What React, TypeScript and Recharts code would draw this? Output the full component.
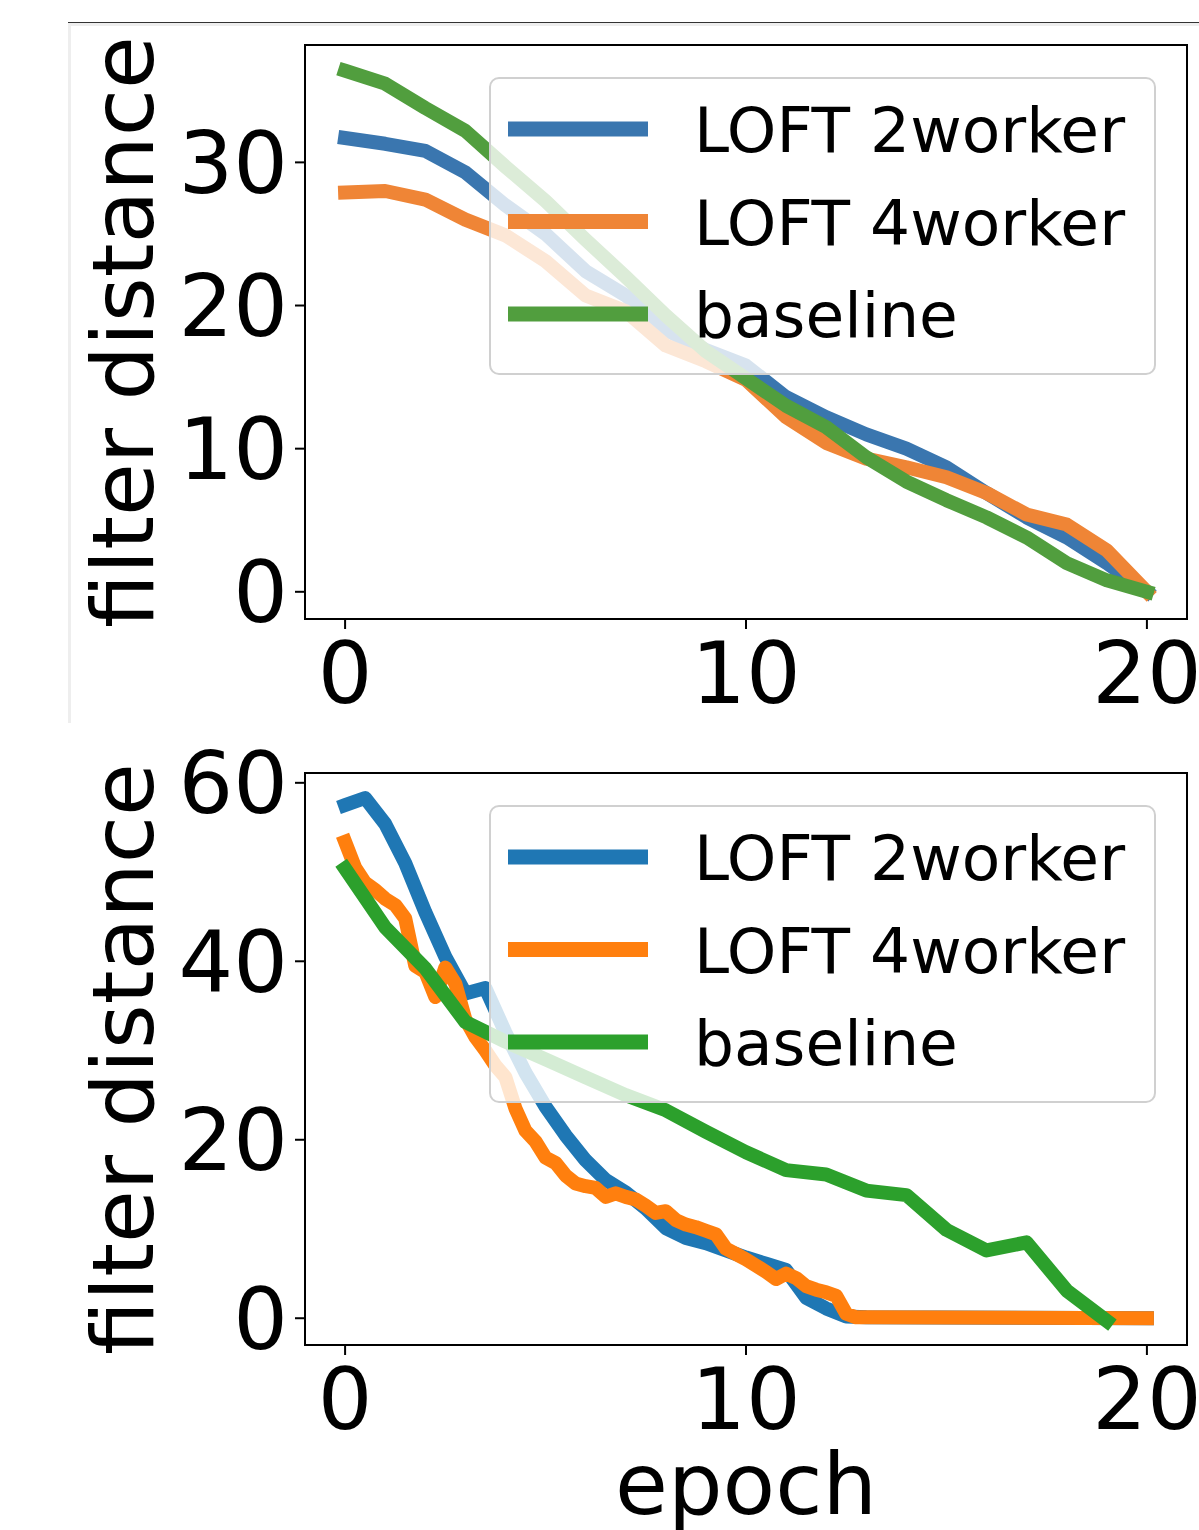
import { LineChart, Line, XAxis, YAxis, Legend, ReferenceArea } from "recharts";

const FONT = "DejaVu Sans, sans-serif";

// series names and tick labels
const seriesNames = ["LOFT 2worker", "LOFT 4worker", "baseline"];
const xTicks = [0, 10, 20];
const topYTicks = [0, 10, 20, 30];
const bottomYTicks = [0, 20, 40, 60];

// top panel, one point per epoch
const topEpochs = [0, 1, 2, 3, 4, 5, 6, 7, 8, 9, 10, 11, 12, 13, 14, 15, 16, 17, 18, 19, 20];
const topLoft2 = [31.7, 31.3, 30.8, 29.3, 27.0, 25.0, 22.4, 20.7, 18.3, 16.9, 15.8, 13.6, 12.2, 11.0, 10.0, 8.7, 6.9, 5.2, 3.8, 2.0, 0.0];
const topLoft4 = [27.9, 28.0, 27.4, 26.0, 24.9, 23.1, 20.7, 19.6, 17.2, 16.1, 14.8, 12.2, 10.4, 9.3, 8.7, 8.0, 6.9, 5.4, 4.7, 2.9, 0.0];
const topBaseline = [36.4, 35.5, 33.8, 32.2, 29.7, 27.3, 24.6, 22.0, 19.3, 16.8, 14.9, 13.0, 11.5, 9.4, 7.7, 6.4, 5.2, 3.8, 2.0, 0.8, 0.0];

// bottom panel
const bottomLoft2Epochs = [0, 0.5, 1, 1.5, 2, 2.5, 3, 3.5, 4, 4.5, 5, 5.5, 6, 6.5, 7, 7.5, 8, 8.5, 9, 9.5, 10, 10.5, 11, 11.5, 12, 12.5, 13, 20];
const bottomLoft2 = [57.5, 58.3, 55.4, 51.0, 45.5, 40.5, 36.4, 37.0, 32.0, 27.5, 23.7, 20.5, 17.7, 15.5, 14.1, 12.3, 10.1, 9.0, 8.4, 7.6, 6.8, 6.1, 5.4, 2.3, 1.1, 0.2, 0.1, 0.0];
const bottomLoft4Epochs = [
  0, 0.25, 0.5, 0.75, 1, 1.25, 1.5, 1.75, 2, 2.25, 2.5, 2.75, 3, 3.25, 3.5, 3.75, 4, 4.25, 4.5, 4.75,
  5, 5.25, 5.5, 5.75, 6, 6.25, 6.5, 6.75, 7, 7.25, 7.5, 7.75, 8, 8.25, 8.5, 8.75, 9, 9.25, 9.5, 9.75,
  10, 10.25, 10.5, 10.75, 11, 11.25, 11.5, 11.75, 12, 12.25, 12.5, 12.75, 13, 20,
];
const bottomLoft4 = [
  53.4, 50.5, 48.8, 48.0, 47.0, 46.3, 44.8, 39.5, 38.8, 36.0, 39.3, 37.5, 33.5, 31.5, 30.0, 28.3, 27.0, 23.5, 21.0, 19.8,
  18.0, 17.4, 16.0, 15.1, 14.8, 14.6, 13.6, 14.0, 13.6, 13.3, 12.6, 11.8, 12.0, 11.0, 10.5, 10.2, 9.8, 9.4, 7.8, 7.2,
  6.6, 5.9, 5.2, 4.4, 5.0, 4.5, 3.6, 3.2, 2.9, 2.5, 0.5, 0.1, 0.1, 0.0,
];
const bottomBaselineEpochs = [0, 1, 2, 3, 4, 5, 6, 7, 8, 9, 10, 11, 12, 13, 14, 15, 16, 17, 18, 19];
const bottomBaseline = [50.4, 43.8, 39.2, 33.2, 31.0, 29.0, 27.0, 25.0, 23.3, 20.9, 18.6, 16.6, 16.1, 14.3, 13.8, 9.9, 7.6, 8.5, 3.1, -0.3];

const topColors = ["#3a76af", "#ef8536", "#519e3e"];
const bottomColors = ["#1f77b4", "#ff7f0e", "#2ca02c"];

const X_DOMAIN: [number, number] = [-1, 21];

const pairs = (xs: number[], ys: number[]) => xs.map((epoch, i) => ({ epoch, value: ys[i] }));

function renderLegend(props: any) {
  const payload = props.payload || [];
  return (
    <div
      style={{
        width: 667,
        height: 298,
        boxSizing: "border-box",
        border: "2px solid #d0d0d0",
        borderRadius: 10,
        background: "rgba(255,255,255,0.8)",
      }}
    >
      <svg width={663} height={294} style={{ display: "block" }}>
        {payload.map((entry: any, i: number) => {
          const rowY = 50 + i * 92.5;
          return (
            <g key={i}>
              <line x1={17} x2={157} y1={rowY} y2={rowY} stroke={entry.color} strokeWidth={15} />
              <text x={203} y={rowY + 23} fontSize={63} fontFamily={FONT} fill="#000">
                {entry.value}
              </text>
            </g>
          );
        })}
      </svg>
    </div>
  );
}

function yLabel(props: any) {
  const { x, y, height } = props.viewBox;
  const cx = x + 93;
  const cy = y + height / 2;
  return (
    <text x={cx} y={cy} transform={`rotate(-90 ${cx} ${cy})`} textAnchor="middle" fontSize={86} fontFamily={FONT} fill="#000">
      filter distance
    </text>
  );
}

function xLabel(props: any) {
  const { x, y, width } = props.viewBox;
  return (
    <text x={x + width / 2} y={y + 169} textAnchor="middle" fontSize={86} fontFamily={FONT} fill="#000">
      epoch
    </text>
  );
}

interface PanelProps {
  height: number;
  marginTop: number;
  marginBottom: number;
  xAxisHeight: number;
  yDomain: [number, number];
  yTicks: number[];
  colors: string[];
  series: { x: number[]; y: number[] }[];
  showXLabel: boolean;
}

function Panel({ height, marginTop, marginBottom, xAxisHeight, yDomain, yTicks, colors, series, showXLabel }: PanelProps) {
  const tickStyle = { fontSize: 86, fill: "#000", fontFamily: FONT };
  const axisStyle = { stroke: "#000", strokeWidth: 2 };
  return (
    <LineChart width={1199} height={height} margin={{ top: marginTop, right: 12, bottom: marginBottom, left: 60 }}>
      <XAxis
        dataKey="epoch"
        type="number"
        domain={X_DOMAIN}
        ticks={xTicks}
        allowDataOverflow
        height={xAxisHeight}
        tick={tickStyle}
        tickSize={10}
        tickMargin={13}
        axisLine={axisStyle}
        tickLine={axisStyle}
        label={showXLabel ? xLabel : undefined}
      />
      <YAxis
        type="number"
        domain={yDomain}
        ticks={yTicks}
        allowDataOverflow
        width={245}
        tick={tickStyle}
        tickSize={10}
        tickMargin={7}
        axisLine={axisStyle}
        tickLine={axisStyle}
        label={yLabel}
      />
      {/* frame of the axes */}
      <ReferenceArea
        x1={X_DOMAIN[0]}
        x2={X_DOMAIN[1]}
        y1={yDomain[0]}
        y2={yDomain[1]}
        fill="none"
        fillOpacity={0}
        stroke="#000"
        strokeWidth={2}
        ifOverflow="visible"
      />
      {series.map((s, i) => (
        <Line
          key={seriesNames[i]}
          data={pairs(s.x, s.y)}
          dataKey="value"
          name={seriesNames[i]}
          type="linear"
          stroke={colors[i]}
          strokeWidth={14}
          strokeLinecap="square"
          strokeLinejoin="round"
          dot={false}
          activeDot={false}
          isAnimationActive={false}
        />
      ))}
      <Legend
        layout="vertical"
        align="center"
        verticalAlign="middle"
        content={renderLegend}
        wrapperStyle={{ left: 489, top: 77 + (marginTop - 45), width: 667, height: 298 }}
      />
    </LineChart>
  );
}

export default function App() {
  return (
    <div style={{ position: "absolute", left: 0, top: 0, width: 1199, height: 1530, background: "#fff", overflow: "hidden", fontFamily: FONT }}>
      <div
        style={{
          position: "absolute",
          left: 68,
          top: 22,
          width: 1131,
          height: 701,
          borderTop: "1px solid #333",
          boxSizing: "border-box",
        }}
      >
        <div style={{ width: "100%", height: "100%", borderTop: "3px solid #eeeeee", borderLeft: "3px solid #eeeeee", boxSizing: "border-box" }} />
      </div>
      <div style={{ position: "absolute", left: 0, top: 0 }}>
        <Panel
          height={725}
          marginTop={45}
          marginBottom={6}
          xAxisHeight={100}
          yDomain={[-1.9, 38.2]}
          yTicks={topYTicks}
          colors={topColors}
          series={[
            { x: topEpochs, y: topLoft2 },
            { x: topEpochs, y: topLoft4 },
            { x: topEpochs, y: topBaseline },
          ]}
          showXLabel={false}
        />
      </div>
      <div style={{ position: "absolute", left: 0, top: 725 }}>
        <Panel
          height={805}
          marginTop={48}
          marginBottom={0}
          xAxisHeight={185}
          yDomain={[-3.0, 61.1]}
          yTicks={bottomYTicks}
          colors={bottomColors}
          series={[
            { x: bottomLoft2Epochs, y: bottomLoft2 },
            { x: bottomLoft4Epochs, y: bottomLoft4 },
            { x: bottomBaselineEpochs, y: bottomBaseline },
          ]}
          showXLabel={true}
        />
      </div>
    </div>
  );
}
